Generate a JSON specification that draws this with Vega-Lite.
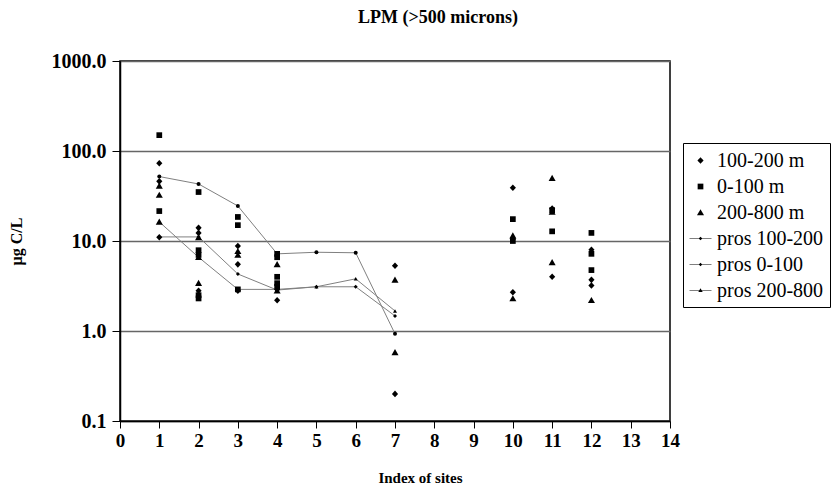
{
  "$schema": "https://vega.github.io/schema/vega-lite/v6.json",
  "width": 550,
  "height": 360,
  "autosize": {"type": "none"},
  "padding": {"left": 120, "top": 61, "right": 167, "bottom": 80},
  "background": "white",
  "config": {
    "font": "Liberation Serif",
    "view": {"stroke": "black", "strokeWidth": 1.5},
    "legend": {"labelFont": "Liberation Serif", "labelFontSize": 20}
  },
  "title": {
    "text": "LPM (>500 microns)",
    "font": "Liberation Serif",
    "fontSize": 18,
    "fontWeight": "bold",
    "anchor": "middle",
    "dx": 43,
    "offset": 24,
    "color": "black"
  },
  "datasets": {
    "scatter": [
      {"site": 1, "value": 73, "series": "100-200 m"},
      {"site": 1, "value": 46, "series": "100-200 m"},
      {"site": 1, "value": 11, "series": "100-200 m"},
      {"site": 1, "value": 150, "series": "0-100 m"},
      {"site": 1, "value": 21.5, "series": "0-100 m"},
      {"site": 1, "value": 41, "series": "200-800 m"},
      {"site": 1, "value": 32.5, "series": "200-800 m"},
      {"site": 1, "value": 16.3, "series": "200-800 m"},
      {"site": 2, "value": 35, "series": "0-100 m"},
      {"site": 2, "value": 7.9, "series": "0-100 m"},
      {"site": 2, "value": 7.0, "series": "0-100 m"},
      {"site": 2, "value": 2.5, "series": "0-100 m"},
      {"site": 2, "value": 2.3, "series": "0-100 m"},
      {"site": 2, "value": 14, "series": "100-200 m"},
      {"site": 2, "value": 12.3, "series": "100-200 m"},
      {"site": 2, "value": 2.8, "series": "100-200 m"},
      {"site": 2, "value": 11, "series": "200-800 m"},
      {"site": 2, "value": 3.4, "series": "200-800 m"},
      {"site": 2, "value": 6.6, "series": "200-800 m"},
      {"site": 3, "value": 18.5, "series": "0-100 m"},
      {"site": 3, "value": 15, "series": "0-100 m"},
      {"site": 3, "value": 2.9, "series": "0-100 m"},
      {"site": 3, "value": 8.8, "series": "100-200 m"},
      {"site": 3, "value": 5.5, "series": "100-200 m"},
      {"site": 3, "value": 2.8, "series": "100-200 m"},
      {"site": 3, "value": 7.7, "series": "200-800 m"},
      {"site": 3, "value": 7.0, "series": "200-800 m"},
      {"site": 4, "value": 7.2, "series": "0-100 m"},
      {"site": 4, "value": 6.6, "series": "0-100 m"},
      {"site": 4, "value": 4.0, "series": "0-100 m"},
      {"site": 4, "value": 3.4, "series": "0-100 m"},
      {"site": 4, "value": 3.1, "series": "0-100 m"},
      {"site": 4, "value": 2.2, "series": "100-200 m"},
      {"site": 4, "value": 2.9, "series": "100-200 m"},
      {"site": 4, "value": 5.5, "series": "200-800 m"},
      {"site": 4, "value": 2.8, "series": "200-800 m"},
      {"site": 7, "value": 5.3, "series": "100-200 m"},
      {"site": 7, "value": 0.2, "series": "100-200 m"},
      {"site": 7, "value": 3.7, "series": "200-800 m"},
      {"site": 7, "value": 0.58, "series": "200-800 m"},
      {"site": 10, "value": 39, "series": "100-200 m"},
      {"site": 10, "value": 2.7, "series": "100-200 m"},
      {"site": 10, "value": 10.5, "series": "100-200 m"},
      {"site": 10, "value": 17.5, "series": "0-100 m"},
      {"site": 10, "value": 10, "series": "0-100 m"},
      {"site": 10, "value": 11.5, "series": "200-800 m"},
      {"site": 10, "value": 2.3, "series": "200-800 m"},
      {"site": 11, "value": 50, "series": "200-800 m"},
      {"site": 11, "value": 21, "series": "200-800 m"},
      {"site": 11, "value": 5.8, "series": "200-800 m"},
      {"site": 11, "value": 23, "series": "100-200 m"},
      {"site": 11, "value": 4.0, "series": "100-200 m"},
      {"site": 11, "value": 12.8, "series": "0-100 m"},
      {"site": 11, "value": 22, "series": "0-100 m"},
      {"site": 12, "value": 12.3, "series": "0-100 m"},
      {"site": 12, "value": 7.2, "series": "0-100 m"},
      {"site": 12, "value": 4.75, "series": "0-100 m"},
      {"site": 12, "value": 8, "series": "100-200 m"},
      {"site": 12, "value": 3.7, "series": "100-200 m"},
      {"site": 12, "value": 3.2, "series": "100-200 m"},
      {"site": 12, "value": 2.2, "series": "200-800 m"}
    ],
    "pros": [
      {"site": 1, "value": 52, "series": "pros 0-100"},
      {"site": 2, "value": 43, "series": "pros 0-100"},
      {"site": 3, "value": 24.5, "series": "pros 0-100"},
      {"site": 4, "value": 7.2, "series": "pros 0-100"},
      {"site": 5, "value": 7.5, "series": "pros 0-100"},
      {"site": 6, "value": 7.4, "series": "pros 0-100"},
      {"site": 7, "value": 0.93, "series": "pros 0-100"},
      {"site": 1, "value": 11.1, "series": "pros 100-200"},
      {"site": 2, "value": 11.1, "series": "pros 100-200"},
      {"site": 3, "value": 4.3, "series": "pros 100-200"},
      {"site": 4, "value": 2.85, "series": "pros 100-200"},
      {"site": 5, "value": 3.1, "series": "pros 100-200"},
      {"site": 6, "value": 3.1, "series": "pros 100-200"},
      {"site": 7, "value": 1.47, "series": "pros 100-200"},
      {"site": 1, "value": 16.3, "series": "pros 200-800"},
      {"site": 2, "value": 6.6, "series": "pros 200-800"},
      {"site": 3, "value": 2.9, "series": "pros 200-800"},
      {"site": 4, "value": 2.9, "series": "pros 200-800"},
      {"site": 5, "value": 3.1, "series": "pros 200-800"},
      {"site": 6, "value": 3.8, "series": "pros 200-800"},
      {"site": 7, "value": 1.67, "series": "pros 200-800"}
    ]
  },
  "encoding": {
    "x": {
      "field": "site",
      "type": "quantitative",
      "scale": {"domain": [0, 14], "nice": false, "zero": false},
      "axis": {
        "title": "Index of sites",
        "titleFont": "Liberation Serif",
        "titleFontSize": 15,
        "titleFontWeight": "bold",
        "titleColor": "black",
        "titlePadding": 20,
        "titleX": 300,
        "values": [0, 1, 2, 3, 4, 5, 6, 7, 8, 9, 10, 11, 12, 13, 14],
        "format": "d",
        "labelFont": "Liberation Serif",
        "labelFontSize": 19,
        "labelFontWeight": "bold",
        "labelColor": "black",
        "labelPadding": 3,
        "labelFlush": false,
        "tickSize": 7,
        "tickColor": "black",
        "domainColor": "black",
        "domainWidth": 1.5,
        "grid": false
      }
    },
    "y": {
      "field": "value",
      "type": "quantitative",
      "scale": {"type": "log", "domain": [0.1, 1000], "nice": false},
      "axis": {
        "title": "µg C/L",
        "titleFont": "Liberation Serif",
        "titleFontSize": 16,
        "titleFontWeight": "bold",
        "titleColor": "black",
        "titlePadding": 27,
        "values": [0.1, 1, 10, 100, 1000],
        "format": ".1f",
        "labelFont": "Liberation Serif",
        "labelFontSize": 20,
        "labelFontWeight": "bold",
        "labelColor": "black",
        "labelPadding": 6,
        "labelFlush": false,
        "tickSize": 8,
        "tickColor": "black",
        "domainColor": "black",
        "domainWidth": 1.5,
        "grid": true,
        "gridColor": "#666666",
        "gridWidth": 1.3
      }
    }
  },
  "layer": [
    {
      "data": {"name": "pros"},
      "mark": {"type": "line", "color": "#808080", "strokeWidth": 1},
      "encoding": {"detail": {"field": "series"}}
    },
    {
      "data": {"name": "scatter"},
      "mark": {"type": "point", "filled": true, "size": 484, "opacity": 1, "color": "black"},
      "encoding": {
        "shape": {
          "field": "series",
          "type": "nominal",
          "scale": {
            "domain": ["100-200 m", "0-100 m", "200-800 m", "pros 100-200", "pros 0-100", "pros 200-800"],
            "range": [
              "M0,-0.3L0.28,0L0,0.3L-0.28,0Z",
              "M-0.26,-0.26H0.26V0.26H-0.26Z",
              "M0,-0.3L0.32,0.26H-0.32Z",
              "M-1,-0.03L1,-0.03L1,0.03L-1,0.03ZM0,-0.17L0.17,0L0,0.17L-0.17,0Z",
              "M-1,-0.03L1,-0.03L1,0.03L-1,0.03ZM0,-0.16L0.16,0L0,0.16L-0.16,0Z",
              "M-1,-0.03L1,-0.03L1,0.03L-1,0.03ZM0,-0.2L0.2,0.14L-0.2,0.14Z"
            ]
          },
          "legend": {
            "title": null,
            "orient": "none",
            "legendX": 563,
            "legendY": 82,
            "padding": 6,
            "strokeColor": "black",
            "fillColor": "white",
            "labelFont": "Liberation Serif",
            "labelFontSize": 20,
            "labelColor": "black",
            "labelOffset": 5,
            "rowPadding": 4,
            "symbolSize": 484,
            "symbolFillColor": "black",
            "symbolStrokeColor": "black",
            "symbolStrokeWidth": 0.5,
            "symbolOpacity": 1,
            "encode": {
              "symbols": {
                "update": {
                  "stroke": {"value": "black"},
                  "strokeOpacity": {"value": 1},
                  "strokeWidth": {"value": 0.5},
                  "fill": {"value": "black"},
                  "fillOpacity": {"value": 1},
                  "opacity": {"value": 1}
                }
              },
              "labels": {
                "update": {
                  "font": {"value": "Liberation Serif"},
                  "fontSize": {"value": 20}
                }
              }
            }
          }
        }
      }
    },
    {
      "data": {"name": "pros"},
      "mark": {"type": "point", "filled": true, "size": 16, "opacity": 1, "color": "black"},
      "encoding": {
        "shape": {
          "field": "series",
          "type": "nominal",
          "scale": {
            "domain": ["pros 100-200", "pros 0-100", "pros 200-800"],
            "range": ["diamond", "circle", "triangle-up"]
          },
          "legend": null
        }
      }
    }
  ],
  "resolve": {"scale": {"shape": "independent"}}
}
